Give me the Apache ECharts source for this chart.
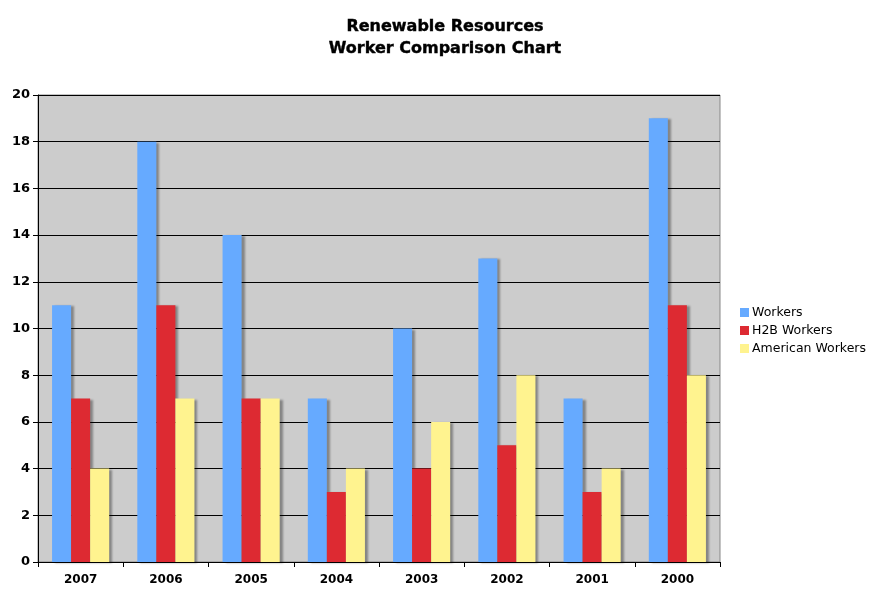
<!DOCTYPE html>
<html><head><meta charset="utf-8">
<script src="https://cdn.jsdelivr.net/npm/echarts@6/dist/echarts.min.js"></script>
<style>html,body{margin:0;padding:0;background:#fff}#c{width:890px;height:606px}</style>
</head><body><div id="c"></div>
<script>
const categories = ['2007','2006','2005','2004','2003','2002','2001','2000'];
const workers = [11,18,14,7,10,13,7,19];
const h2bWorkers = [7,11,7,3,4,5,3,11];
const americanWorkers = [4,7,7,4,6,8,4,8];
const yTicks = [0,2,4,6,8,10,12,14,16,18,20];

const chart = echarts.init(document.getElementById('c'));
const font = 'DejaVu Sans, Verdana, sans-serif';
function bar(name, data, color){
  return {name, type:'bar', data, barGap:'0%', barCategoryGap:'33%',
    itemStyle:{color, shadowColor:'rgba(0,0,0,0.35)', shadowOffsetX:3, shadowOffsetY:1, shadowBlur:2}};
}
chart.setOption({
  animation:false,
  backgroundColor:'#fff',
  title:{text:'Renewable Resources\nWorker Comparison Chart', left:'center', top:11,
    textStyle:{fontFamily:font, fontWeight:'bold', fontSize:16, color:'#000', lineHeight:22,
      textBorderColor:'#000', textBorderWidth:0.4}},
  grid:{left:38, right:170, top:95, bottom:44, show:true, backgroundColor:'#cccccc', borderColor:'#888', borderWidth:1},
  legend:{orient:'vertical', left:735, top:301, itemWidth:9, itemHeight:9, itemGap:5,
    icon:'rect', textStyle:{fontFamily:font, fontSize:12.5, color:'#000', padding:[0,0,0,-2]},
    data:['Workers','H2B Workers','American Workers']},
  xAxis:{type:'category', data:categories,
    axisLine:{lineStyle:{color:'#000', width:1}},
    axisTick:{show:true, length:5, lineStyle:{color:'#000'}},
    axisLabel:{fontFamily:font, fontWeight:'bold', fontSize:12, color:'#000', margin:12}},
  yAxis:{type:'value', min:yTicks[0], max:yTicks[yTicks.length-1], interval:2,
    axisLine:{show:true, lineStyle:{color:'#000'}},
    axisTick:{show:true, length:5, lineStyle:{color:'#000'}},
    splitLine:{lineStyle:{color:'#000', width:1}},
    axisLabel:{fontFamily:font, fontWeight:'bold', fontSize:13, color:'#000', margin:8}},
  series:[
    bar('Workers', workers, '#66aaff'),
    bar('H2B Workers', h2bWorkers, '#dd2a32'),
    bar('American Workers', americanWorkers, '#fff38f')
  ]
});
</script></body></html>
